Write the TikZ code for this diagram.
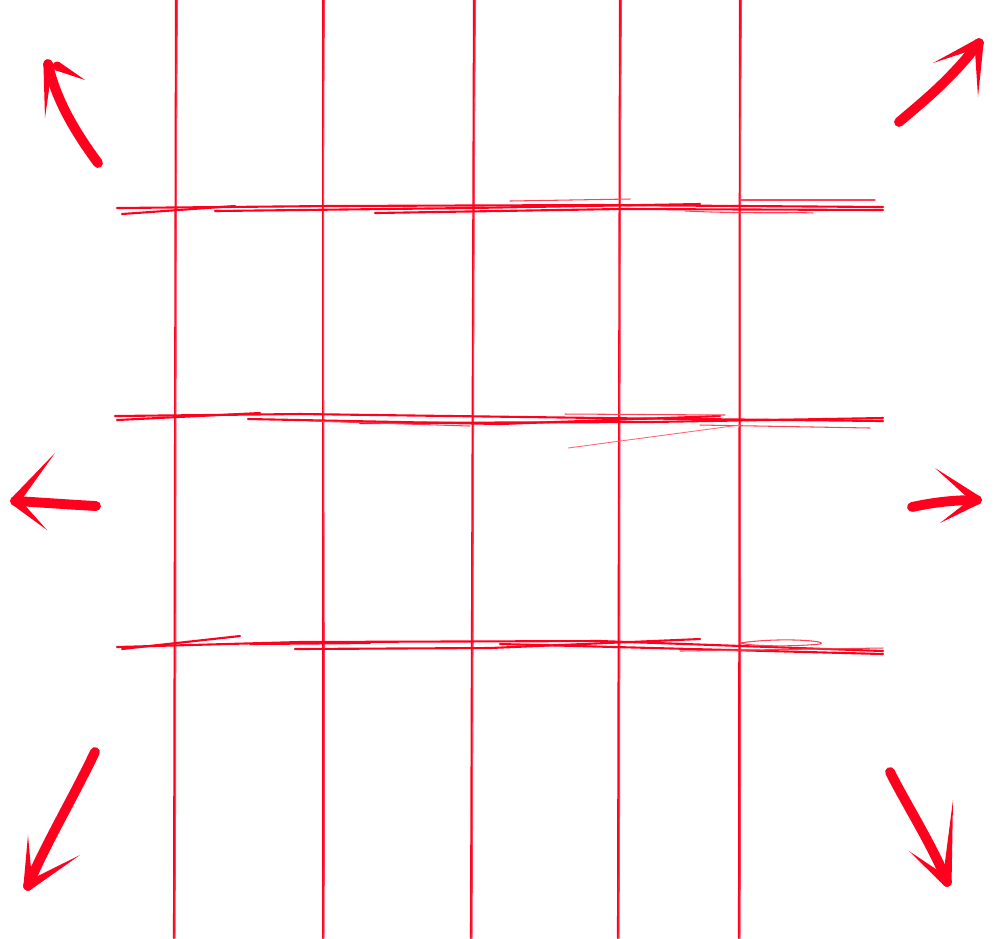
\documentclass[tikz,border=0pt]{standalone}
\usepackage{tikz}
\usetikzlibrary{calc}
\definecolor{sketchred}{RGB}{255,0,30}
% tapered brush stroke for an arrow barb: tip, free end, half width
\newcommand\brushbarb[3]{\fill[sketchred] ($(#1)!#3!90:(#2)$) -- (#2) -- ($(#1)!#3!-90:(#2)$) -- cycle;
  \fill[sketchred] (#1) circle (#3);}

\begin{document}
\begin{tikzpicture}[x=0.01cm,y=-0.01cm,
  gridline/.style={sketchred,line width=0.6pt,line cap=round},
  faint/.style={sketchred!75,line width=0.3pt,line cap=round},
  shaft/.style={sketchred,line width=2.8pt,line cap=round}]
\useasboundingbox (0,0) rectangle (1000,938);

% vertical strokes
\foreach \xa/\xb in {176/174,323/323,474/471,620/618,740/739}{
  \draw[gridline] (\xa,0) -- (\xb,938);
  \draw[faint] (\xa+1.5,0) .. controls (\xa-1,300) and (\xb+2.5,650) .. (\xb+1,938);
}

% horizontal strokes, top
\draw[gridline] (117,208) -- (330,206) -- (600,205) -- (883,207);
\draw[gridline] (122,214) -- (235,206);
\draw[gridline] (215,211) -- (470,208) -- (700,204);
\draw[gridline] (375,213) -- (620,209) -- (883,210);
\draw[faint] (510,201) -- (630,199);
\draw[faint] (685,211) .. controls (750,214) and (800,212) .. (813,213);
\draw[faint] (740,200) -- (875,200);
% middle
\draw[gridline] (115,416) -- (300,414) -- (600,418) -- (883,421);
\draw[gridline] (117,420) -- (260,413);
\draw[gridline] (248,419) -- (500,424) -- (720,416);
\draw[gridline] (360,423) -- (650,422) -- (883,418);
\draw[faint] (565,414) -- (725,415);
\draw[faint] (310,421) -- (470,426);
\draw[faint] (700,425) -- (870,428);
\draw[sketchred!60,line width=0.25pt] (568,448) -- (740,425);
% bottom
\draw[gridline] (117,647) -- (300,642) -- (600,641) -- (883,651);
\draw[gridline] (122,649) -- (240,636);
\draw[gridline] (250,644) -- (370,643);
\draw[gridline] (295,649) -- (490,648) -- (700,639);
\draw[gridline] (500,644) -- (883,654);
\draw[faint] (740,643) .. controls (780,637) and (830,641) .. (820,644) .. controls (790,647) and (750,646) .. (740,643);
\draw[faint] (680,651) -- (883,648);

% arrow tips
\coordinate (tl) at (48,64);
\coordinate (tr) at (979,43);
\coordinate (ml) at (15,501);
\coordinate (mr) at (977,500);
\coordinate (bl) at (28,886);
\coordinate (br) at (947,882);

% arrows
\draw[shaft] (98,163) .. controls (70,125) and (55,95) .. (tl);
\brushbarb{tl}{45,118}{1.3pt}
\brushbarb{57,66}{85,80}{1.3pt}

\draw[shaft] (899,122) .. controls (925,100) and (950,80) .. (tr);
\brushbarb{tr}{933,63}{1.3pt}
\brushbarb{tr}{978,97}{1.3pt}

\draw[shaft] (96,506) .. controls (60,504) and (35,502) .. (ml);
\brushbarb{ml}{55,453}{1.3pt}
\brushbarb{ml}{47,530}{1.3pt}

\draw[shaft] (912,507) .. controls (935,502) and (955,500) .. (mr);
\brushbarb{mr}{935,468}{1.3pt}
\brushbarb{mr}{940,523}{1.3pt}

\draw[shaft] (95,752) .. controls (72,800) and (45,845) .. (bl);
\brushbarb{bl}{28,835}{1.3pt}
\brushbarb{bl}{80,855}{1.3pt}

\draw[shaft] (890,772) .. controls (905,802) and (935,850) .. (br);
\brushbarb{br}{953,800}{1.3pt}
\brushbarb{br}{909,851}{1.3pt}
\end{tikzpicture}
\end{document}
